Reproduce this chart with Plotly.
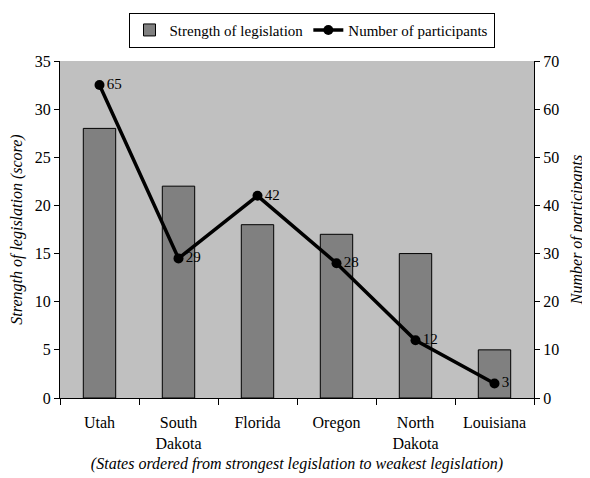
import plotly.graph_objects as go

states = ["Utah", "South<br>Dakota", "Florida", "Oregon", "North<br>Dakota", "Louisiana"]
strength = [28, 22, 18, 17, 15, 5]
participants = [65, 29, 42, 28, 12, 3]

FONT = "Liberation Serif"

fig = go.Figure()
fig.add_trace(go.Bar(
    x=states, y=strength, name="Strength of legislation",
    marker=dict(color="#808080", line=dict(color="black", width=1)),
    yaxis="y",
))
fig.add_trace(go.Scatter(
    x=states, y=participants, name="Number of participants",
    mode="lines+markers+text",
    text=[str(v) for v in participants],
    textposition="middle right",
    textfont=dict(family=FONT, size=15, color="black"),
    line=dict(color="black", width=3.5),
    marker=dict(color="black", size=10),
    yaxis="y2",
))

fig.update_layout(
    width=582, height=470,
    margin=dict(l=52, r=56, t=53, b=80),
    paper_bgcolor="white",
    plot_bgcolor="#c0c0c0",
    font=dict(family=FONT, size=16, color="black"),
    bargap=0.59,
    showlegend=True,
    legend=dict(
        orientation="h", xref="container", x=0.5215, xanchor="center",
        yref="container", y=0.99, yanchor="top",
        bordercolor="black", borderwidth=1, bgcolor="white",
        font=dict(family=FONT, size=15), tracegroupgap=0, itemwidth=30,
    ),
    xaxis=dict(
        showline=True, linecolor="black", linewidth=1, automargin=False,
        ticks="outside", tickson="boundaries", ticklen=6, tickcolor="black",
        tickfont=dict(family=FONT, size=16), ticklabelstandoff=10,
        title=dict(text="<i>(States ordered from strongest legislation to weakest legislation)</i>",
                   font=dict(family=FONT, size=16), standoff=6),
        showgrid=False,
    ),
    yaxis=dict(
        range=[0, 35], dtick=5, showline=True, linecolor="black", linewidth=1, automargin=False,
        ticks="outside", ticklen=5, tickcolor="black", showgrid=False, zeroline=False,
        tickfont=dict(family=FONT, size=16),
        title=dict(text="<i>Strength of legislation (score)</i>", font=dict(family=FONT, size=16), standoff=8),
    ),
    yaxis2=dict(
        range=[0, 70], dtick=10, overlaying="y", side="right", automargin=False,
        showline=True, linecolor="black", linewidth=1,
        ticks="outside", ticklen=5, tickcolor="black", showgrid=False, zeroline=False,
        tickfont=dict(family=FONT, size=16),
        title=dict(text="<i>Number of participants</i>", font=dict(family=FONT, size=16), standoff=12),
    ),
)

fig.write_html("out.html")
